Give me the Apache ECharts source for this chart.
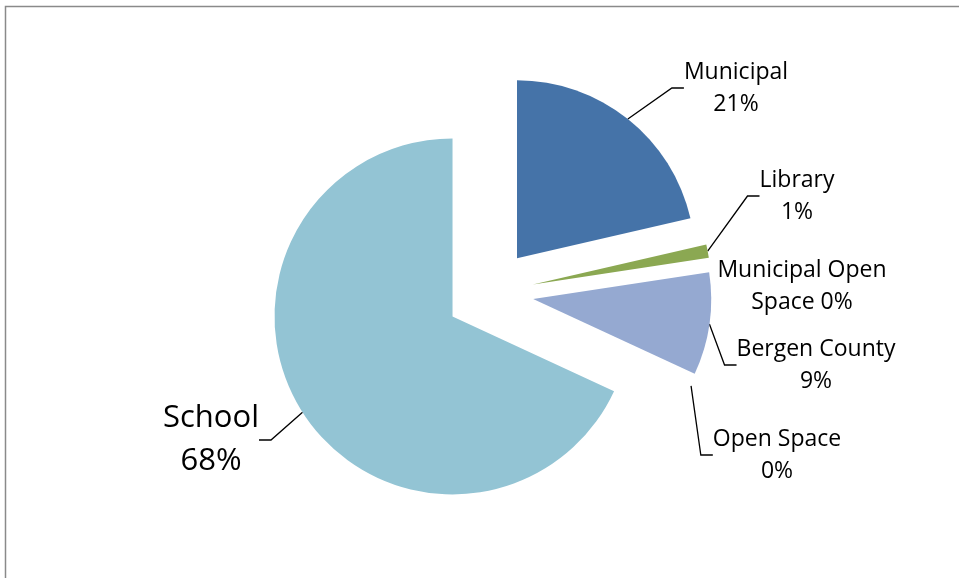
<!DOCTYPE html>
<html>
<head>
<meta charset="utf-8">
<style>
  html, body { margin: 0; padding: 0; background: #fff; }
  #chart { width: 959px; height: 578px; }
</style>
<script src="https://cdn.jsdelivr.net/npm/echarts@6/dist/echarts.min.js"></script>
</head>
<body>
<div id="chart"></div>
<script>
// ---- data ----
const categories = ['Municipal', 'Library', 'Municipal Open Space', 'Bergen County', 'Open Space', 'School'];
const values = [21.4, 1.2, 0, 9.3, 0, 68.1];
const labelTexts = ['Municipal\n{p}%', 'Library\n{p}%', 'Municipal Open\nSpace {p}%', 'Bergen County\n{p}%', 'Open Space\n{p}%', 'School\n{p}%'];

// ---- styles / layout ----
const palette = ['#4573A8', '#8BA852', '#A05050', '#95A9D1', '#7E62A0', '#93C4D4'];
const labelCenters = [[736, 88], [797, 196], [802, 286], [816, 365], [777, 455], [211, 440]];
const pieCenter = [489.6, 292.7];
const pieRadius = 178;
const explode = 44;

const total = values.reduce((a, b) => a + b, 0);

const chart = echarts.init(document.getElementById('chart'), null, { renderer: 'canvas' });

// one pie series per slice, each shifted outward along its own mid-angle (exploded pie)
let cum = 0;
const series = categories.map((name, i) => {
  const span = values[i] / total * 360;
  const mid = (cum + span / 2) * Math.PI / 180;
  cum += span;
  const dx = Math.sin(mid) * explode;
  const dy = -Math.cos(mid) * explode;
  const data = categories.map((n, j) => {
    if (j !== i) {
      return {
        name: n, value: values[j],
        itemStyle: { color: 'rgba(0,0,0,0)' },
        label: { show: false },
        labelLine: { show: false }
      };
    }
    const item = { name: n, value: values[j], itemStyle: { color: palette[j] } };
    if (n === 'School') item.label = { fontSize: 31, lineHeight: 43 };
    if (n === 'Municipal Open Space') item.labelLine = { show: false };
    return item;
  });
  return {
    type: 'pie',
    name: name,
    center: [pieCenter[0] + dx, pieCenter[1] + dy],
    radius: pieRadius,
    startAngle: 90,
    clockwise: true,
    avoidLabelOverlap: false,
    minShowLabelAngle: 0,
    silent: true,
    emphasis: { disabled: true },
    itemStyle: { borderWidth: 0 },
    label: {
      show: true,
      position: 'outside',
      color: '#000',
      fontFamily: 'Open Sans',
      fontSize: 23,
      lineHeight: 32,
      align: 'center',
      formatter: function (p) {
        const pct = Math.round(p.value / total * 100);
        return labelTexts[p.dataIndex].replace('{p}', pct);
      }
    },
    labelLine: {
      show: true,
      length: 10,
      length2: 12,
      smooth: false,
      lineStyle: { color: '#000', width: 1.3 }
    },
    labelLayout: function (p) {
      const c = labelCenters[p.dataIndex];
      return { x: c[0], y: c[1], align: 'center', verticalAlign: 'middle' };
    },
    data: data
  };
});

chart.setOption({
  animation: false,
  backgroundColor: '#ffffff',
  graphic: [{
    type: 'rect',
    silent: true,
    shape: { x: 5.5, y: 6.5, width: 1000, height: 1000 },
    style: { fill: 'none', stroke: '#8a8a8a', lineWidth: 1.5 }
  }],
  series: series
});
</script>
</body>
</html>
